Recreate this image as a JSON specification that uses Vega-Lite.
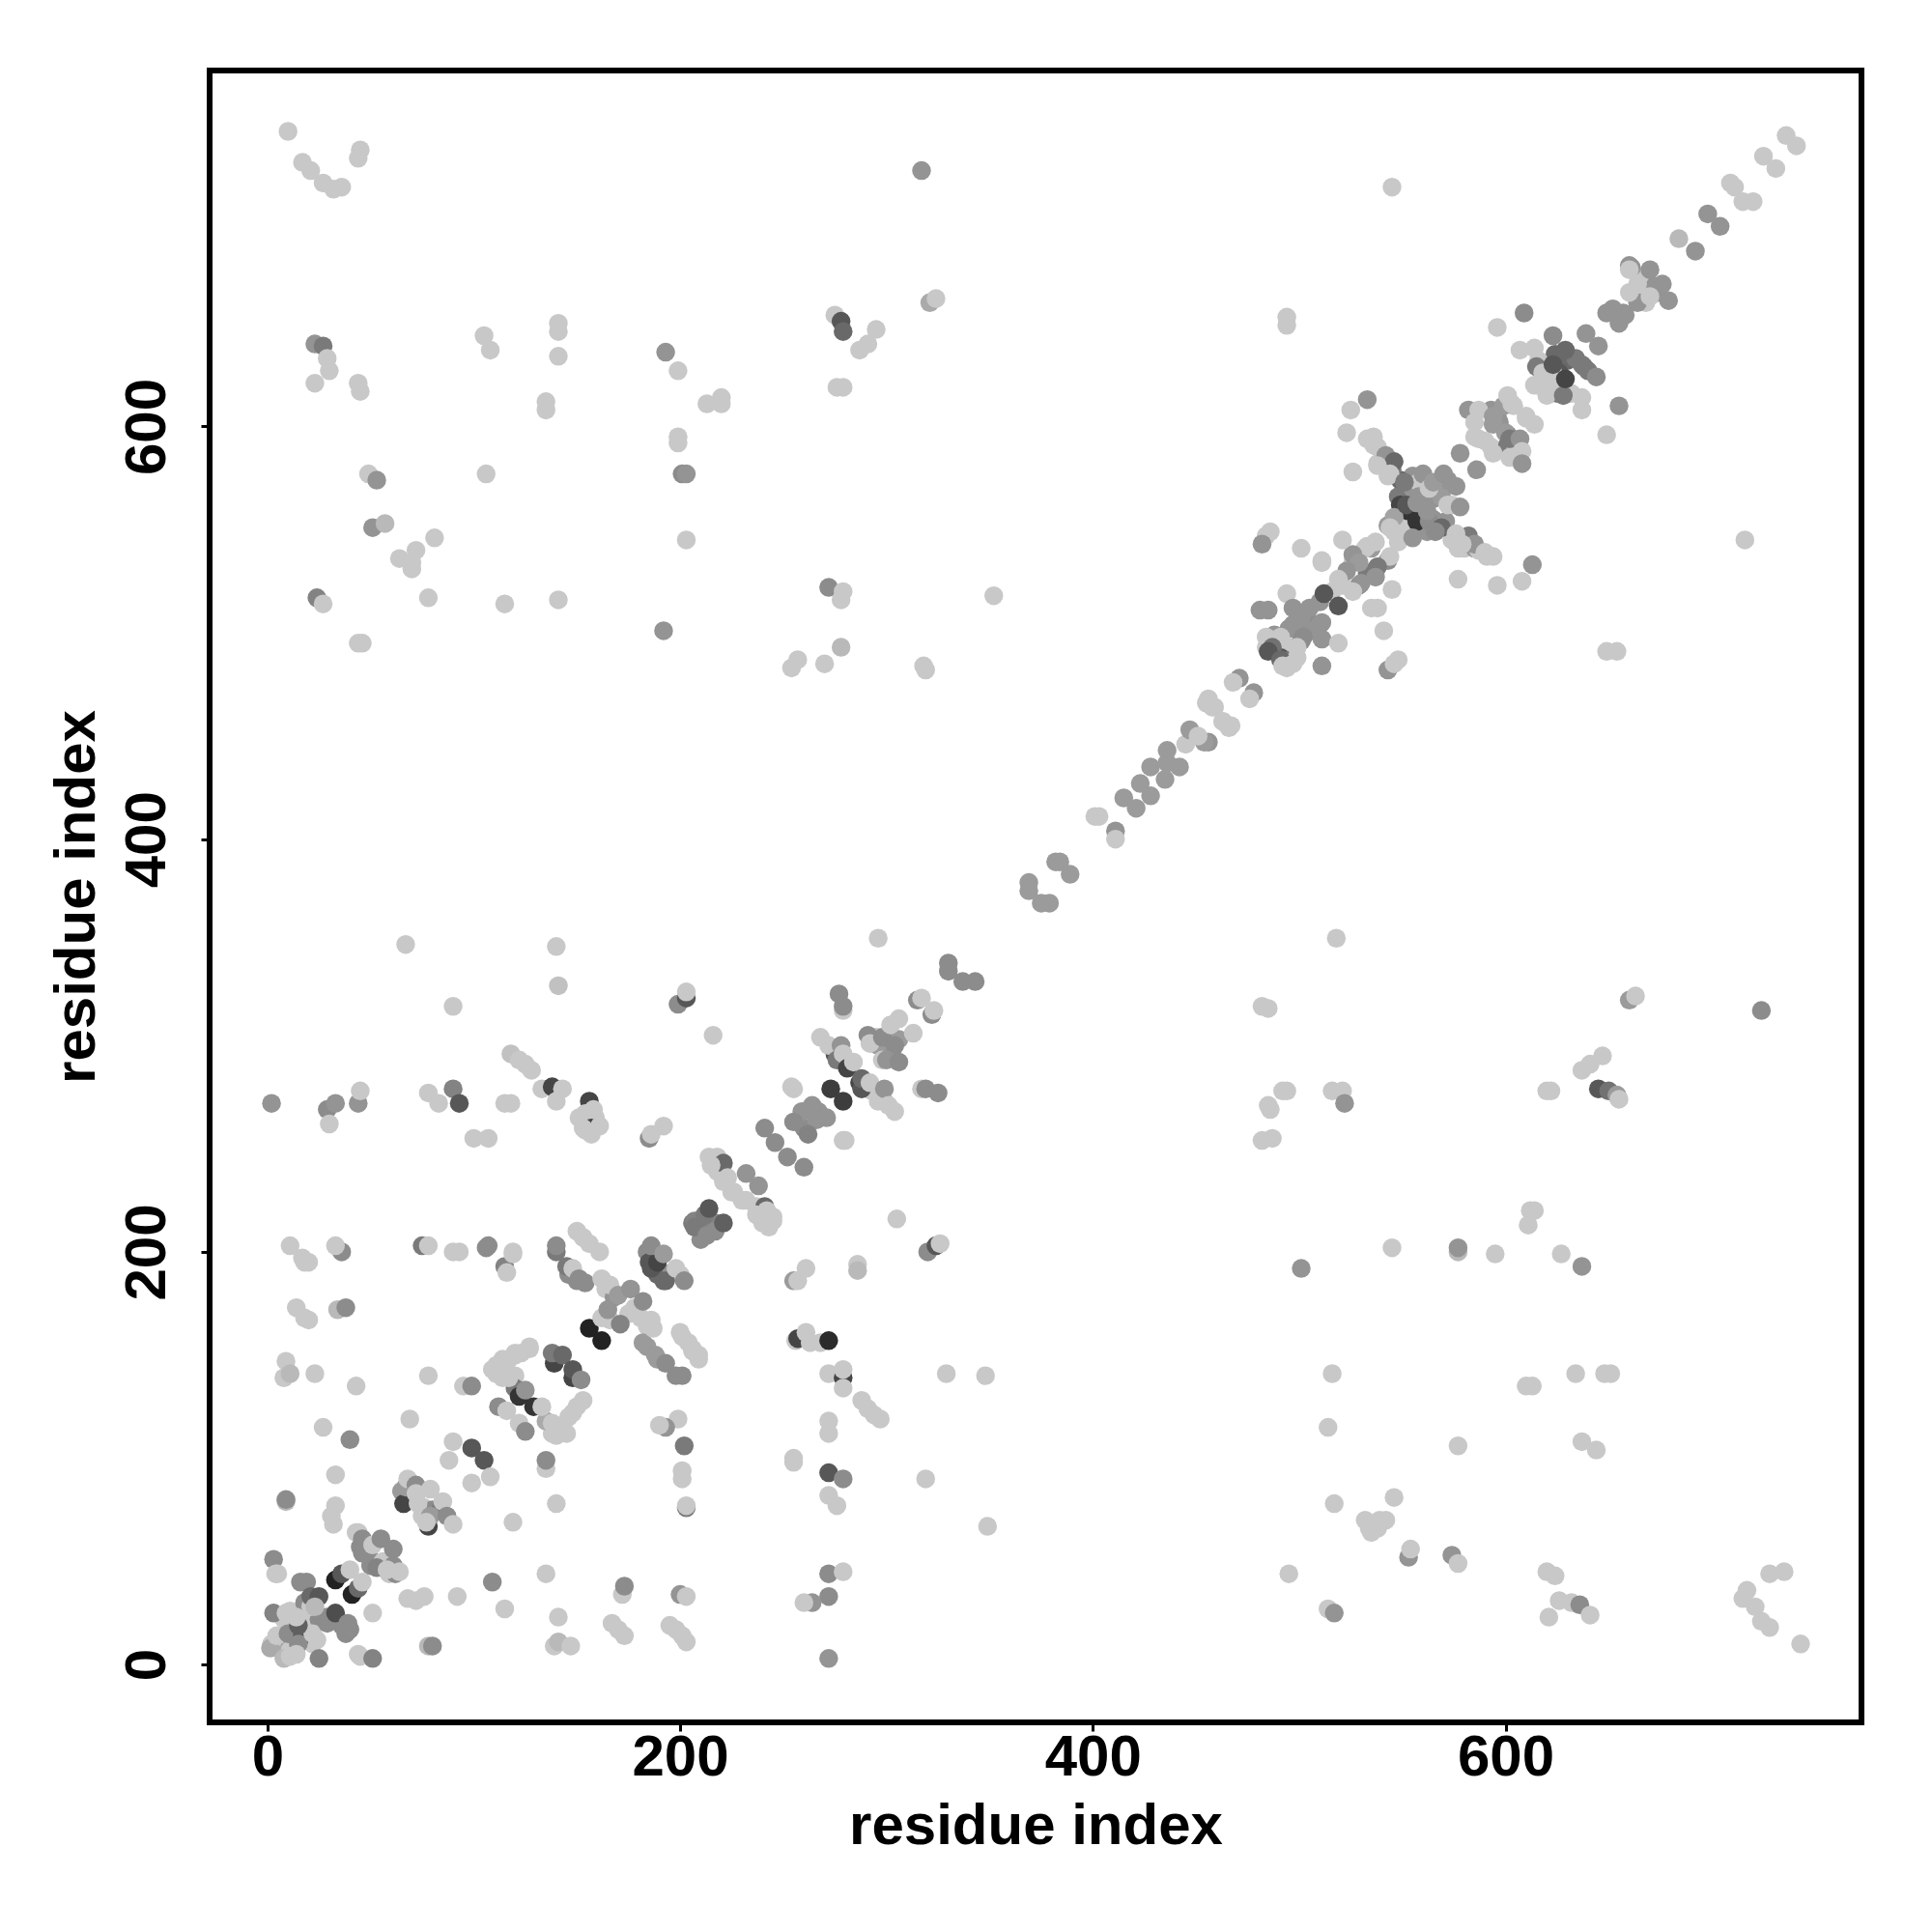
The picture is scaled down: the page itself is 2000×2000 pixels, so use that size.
{"$schema":"https://vega.github.io/schema/vega-lite/v6.json","width":1710,"height":1710,"autosize":{"type":"none"},"padding":{"left":217,"top":73,"right":73,"bottom":217},"background":"white","config":{"view":{"stroke":"black","strokeWidth":6},"font":"Liberation Sans"},
"data":{"values":[
{"x":8,"y":22,"v":0},{"x":11,"y":26,"v":0},{"x":4.5,"y":10,"v":0.3},{"x":2,"y":10,"v":0},{"x":8,"y":5,"v":0.2},{"x":11,"y":7,"v":0},{"x":18,"y":15,"v":0},{"x":22,"y":10,"v":0},{"x":20,"y":22,"v":0},{"x":25,"y":22,"v":0.4},{"x":29,"y":23,"v":0.4},{"x":34,"y":22,"v":0.4},{"x":36,"y":19,"v":0.4},{"x":18,"y":30,"v":0.4},{"x":21,"y":28,"v":0},{"x":43,"y":64,"v":0},{"x":45,"y":57,"v":0.4},{"x":48,"y":58,"v":0},{"x":49,"y":53,"v":0.4},{"x":50,"y":48,"v":0.4},{"x":56,"y":50,"v":0},{"x":59,"y":44,"v":0},{"x":62,"y":44,"v":0.4},{"x":65,"y":84,"v":0.3},{"x":73,"y":84,"v":0},{"x":76,"y":76,"v":0},{"x":80,"y":75,"v":0.4},{"x":84,"y":75,"v":0.5},{"x":75,"y":72,"v":0},{"x":120,"y":151,"v":0},{"x":114,"y":146,"v":0},{"x":109,"y":143,"v":0},{"x":114,"y":139,"v":0},{"x":120,"y":140,"v":0},{"x":120,"y":134,"v":0.5},{"x":138,"y":112,"v":0},{"x":143,"y":114,"v":0},{"x":146,"y":120,"v":0},{"x":135,"y":118,"v":0.2},{"x":156,"y":265,"v":0},{"x":151,"y":265,"v":0},{"x":154,"y":259,"v":0},{"x":159,"y":265,"v":0},{"x":187,"y":198,"v":0.7},{"x":184,"y":200,"v":0.4},{"x":185,"y":195,"v":0.7},{"x":189,"y":189,"v":0.6},{"x":192,"y":186,"v":0.6},{"x":196,"y":190,"v":0.35},{"x":200,"y":189,"v":0},{"x":146,"y":189,"v":0.4},{"x":150,"y":186,"v":0.4},{"x":275,"y":296,"v":0.7},{"x":287,"y":282,"v":0.8},{"x":293,"y":278,"v":0},{"x":299,"y":273,"v":0},{"x":296,"y":300,"v":0.3},{"x":295,"y":304,"v":0},{"x":298,"y":293,"v":0},{"x":302,"y":300,"v":0.3},{"x":306,"y":303,"v":0.3},{"x":218,"y":239,"v":0},{"x":221,"y":234,"v":0},{"x":226,"y":229,"v":0},{"x":232,"y":225,"v":0},{"x":237,"y":222,"v":0},{"x":245,"y":217,"v":0},{"x":243,"y":212,"v":0},{"x":240,"y":214,"v":0},{"x":210,"y":214,"v":0.5},{"x":217,"y":214,"v":0.45},{"x":210,"y":206,"v":0.4},{"x":206,"y":214,"v":0.5},{"x":260,"y":260,"v":0.4},{"x":267,"y":268,"v":0.35},{"x":164,"y":182,"v":0},{"x":168,"y":178,"v":0.35},{"x":166,"y":167,"v":0},{"x":175,"y":170,"v":0},{"x":181,"y":168,"v":0},{"x":184,"y":164,"v":0},{"x":182,"y":156,"v":0.3},{"x":189,"y":148,"v":0.3},{"x":201,"y":159,"v":0},{"x":206,"y":153,"v":0},{"x":209,"y":148,"v":0},{"x":114,"y":148,"v":0},
{"x":555,"y":576,"v":0.35},{"x":549,"y":574,"v":0.6},{"x":548,"y":566,"v":0.5},{"x":549,"y":562,"v":0.8},{"x":555,"y":570,"v":0.35},{"x":558,"y":573,"v":0},{"x":558,"y":566,"v":0.35},{"x":565,"y":565,"v":0.35},{"x":566,"y":570,"v":0},{"x":569,"y":566,"v":0.3},{"x":572,"y":574,"v":0.35},{"x":574,"y":562,"v":0},{"x":565,"y":555,"v":0.35},{"x":558,"y":559,"v":0.4},{"x":562,"y":549,"v":0.35},{"x":557,"y":551,"v":0.35},{"x":571,"y":554,"v":0.35},{"x":551,"y":552,"v":0},{"x":546,"y":549,"v":0},{"x":548,"y":544,"v":0},{"x":543,"y":552,"v":0.3},{"x":536,"y":591,"v":0},{"x":533,"y":594,"v":0},{"x":538,"y":582,"v":0},{"x":543,"y":576,"v":0},{"x":545,"y":579,"v":0.5},{"x":574,"y":545,"v":0},{"x":577,"y":541,"v":0},{"x":580,"y":541,"v":0},{"x":585,"y":541,"v":0.3},{"x":587,"y":540,"v":0},{"x":591,"y":537,"v":0},{"x":535,"y":541,"v":0.3},{"x":532,"y":541,"v":0},{"x":543,"y":535,"v":0.4},{"x":526,"y":534,"v":0},{"x":533,"y":529,"v":0.5},{"x":529,"y":523,"v":0.4},{"x":521,"y":523,"v":0},{"x":516,"y":520,"v":0},{"x":510,"y":515,"v":0.35},{"x":499,"y":502,"v":0.35},{"x":505,"y":505,"v":0.4},{"x":510,"y":504,"v":0.35},{"x":495,"y":502,"v":0.35},{"x":488,"y":499,"v":0.35},{"x":485,"y":495,"v":0.7},{"x":488,"y":492,"v":0.55},{"x":484,"y":493,"v":0},{"x":495,"y":493,"v":0},{"x":498,"y":491,"v":0},{"x":501,"y":496,"v":0.4},{"x":491,"y":488,"v":0.7},{"x":496,"y":487,"v":0.5},{"x":499,"y":488,"v":0},{"x":494,"y":483,"v":0},{"x":593,"y":608,"v":0.35},{"x":596,"y":605,"v":0.35},{"x":597,"y":602,"v":0.35},{"x":585,"y":595,"v":0},{"x":590,"y":593,"v":0},{"x":593,"y":590,"v":0},{"x":601,"y":596,"v":0.5},{"x":604,"y":593,"v":0.6},{"x":601,"y":591,"v":0.5},{"x":605,"y":590,"v":0},{"x":610,"y":605,"v":0},{"x":604,"y":610,"v":0},{"x":599,"y":610,"v":0.3},{"x":621,"y":629,"v":0.6},{"x":624,"y":635,"v":0.6},{"x":630,"y":632,"v":0.6},{"x":626,"y":626,"v":0.7},{"x":627,"y":622,"v":0.8},{"x":623,"y":626,"v":0},{"x":618,"y":623,"v":0},{"x":616,"y":632,"v":0},{"x":634,"y":633,"v":0.5},{"x":638,"y":629,"v":0.5},{"x":621,"y":620,"v":0},{"x":616,"y":620,"v":0},{"x":625,"y":616,"v":0.5},{"x":632,"y":616,"v":0},{"x":657,"y":655,"v":0.35},{"x":662,"y":665,"v":0},{"x":667,"y":670,"v":0},{"x":672,"y":668,"v":0.35},{"x":665,"y":673,"v":0},{"x":660,"y":678,"v":0.35},{"x":674,"y":665,"v":0.35},{"x":668,"y":660,"v":0},
{"x":3,"y":51,"v":0.4},{"x":4,"y":44,"v":0},{"x":5,"y":44,"v":0},{"x":3,"y":25,"v":0.45},{"x":1.5,"y":8,"v":0.2},{"x":4.5,"y":14,"v":0},{"x":8,"y":3,"v":0.1},{"x":10,"y":15,"v":0.4},{"x":17,"y":14,"v":0.7},{"x":15,"y":10,"v":0.4},{"x":14,"y":5,"v":0},{"x":11,"y":4,"v":0},{"x":25,"y":3,"v":0.45},{"x":24,"y":12,"v":0},{"x":22,"y":15,"v":0},{"x":15,"y":19,"v":0.65},{"x":9,"y":25,"v":0},{"x":14,"y":23,"v":0},{"x":16,"y":40,"v":0.4},{"x":19,"y":40,"v":0.4},{"x":21,"y":33,"v":0.6},{"x":25,"y":33,"v":0.7},{"x":23,"y":28,"v":0.1},{"x":29,"y":20,"v":0.4},{"x":33,"y":25,"v":0.75},{"x":38,"y":15,"v":0.4},{"x":39,"y":20,"v":0.4},{"x":40,"y":17,"v":0.4},{"x":44,"y":5,"v":0},{"x":45,"y":4,"v":0},{"x":51,"y":3,"v":0.45},{"x":51,"y":25,"v":0},{"x":33,"y":41,"v":1},{"x":36,"y":44,"v":0.7},{"x":40,"y":46,"v":0},{"x":41,"y":34,"v":1},{"x":44,"y":37,"v":0.6},{"x":46,"y":40,"v":0},{"x":44,"y":64,"v":0},{"x":46,"y":61,"v":0.4},{"x":46,"y":54,"v":0.4},{"x":51,"y":58,"v":0},{"x":55,"y":61,"v":0.4},{"x":53,"y":47,"v":0.45},{"x":61,"y":56,"v":0.4},{"x":61,"y":48,"v":0.4},{"x":58,"y":46,"v":0},{"x":64,"y":45,"v":0},{"x":68,"y":32,"v":0},{"x":72,"y":31,"v":0},{"x":76,"y":33,"v":0},{"x":92,"y":33,"v":0},{"x":109,"y":40,"v":0.4},{"x":115,"y":27,"v":0},{"x":135,"y":44,"v":0},{"x":141,"y":23,"v":0},{"x":172,"y":34,"v":0},{"x":173,"y":38,"v":0.4},{"x":139,"y":9,"v":0},{"x":141,"y":11,"v":0.1},{"x":147,"y":9,"v":0},{"x":78,"y":9,"v":0.1},{"x":80,"y":9,"v":0.4},{"x":167,"y":20,"v":0},{"x":170,"y":17,"v":0},{"x":173,"y":14,"v":0},{"x":9,"y":79,"v":0.1},{"x":9,"y":80,"v":0.4},{"x":33,"y":77,"v":0},{"x":31,"y":72,"v":0},{"x":32,"y":68,"v":0},{"x":33,"y":92,"v":0},{"x":119,"y":69,"v":0},{"x":140,"y":78,"v":0},{"x":135,"y":95,"v":0},{"x":135,"y":99,"v":0.4},
{"x":66,"y":78,"v":0.8},{"x":78,"y":67,"v":0.8},{"x":67,"y":86,"v":0.3},{"x":68,"y":90,"v":0},{"x":72,"y":87,"v":0.4},{"x":73,"y":78,"v":0},{"x":72,"y":83,"v":0},{"x":79,"y":85,"v":0},{"x":79,"y":72,"v":0.3},{"x":77,"y":69,"v":0},{"x":85,"y":79,"v":0},{"x":87,"y":72,"v":0.4},{"x":90,"y":68,"v":0},{"x":90,"y":108,"v":0},{"x":88,"y":99,"v":0},{"x":99,"y":105,"v":0.7},{"x":105,"y":99,"v":0.7},{"x":99,"y":88,"v":0},{"x":108,"y":91,"v":0},{"x":27,"y":115,"v":0},{"x":40,"y":109,"v":0.4},{"x":69,"y":119,"v":0},{"x":9,"y":147,"v":0},{"x":8,"y":139,"v":0},{"x":11,"y":141,"v":0.1},{"x":23,"y":141,"v":0},{"x":43,"y":135,"v":0},{"x":78,"y":140,"v":0},{"x":95,"y":135,"v":0},{"x":99,"y":135,"v":0.4},{"x":112,"y":125,"v":0.4},{"x":116,"y":123,"v":0},{"x":122,"y":130,"v":0.9},{"x":122,"y":117,"v":0},{"x":125,"y":113,"v":0.4},{"x":125,"y":133,"v":0.35},{"x":117,"y":139,"v":0},{"x":111,"y":141,"v":0},{"x":112,"y":145,"v":0},{"x":117,"y":148,"v":0},{"x":123,"y":151,"v":0},{"x":127,"y":153,"v":0},{"x":129,"y":125,"v":0.9},{"x":133,"y":125,"v":0},{"x":138,"y":117,"v":0},{"x":140,"y":111,"v":0},{"x":145,"y":112,"v":0},{"x":148,"y":122,"v":0},{"x":150,"y":125,"v":0},{"x":153,"y":128,"v":0},{"x":139,"y":146,"v":0.8},{"x":138,"y":151,"v":0.5},{"x":143,"y":150,"v":0.6},{"x":148,"y":139,"v":0.8},{"x":148,"y":143,"v":0.7},{"x":152,"y":138,"v":0.4},
{"x":18,"y":195,"v":0},{"x":14,"y":173,"v":0},{"x":18,"y":168,"v":0},{"x":20,"y":167,"v":0},{"x":34,"y":172,"v":0.1},{"x":38,"y":173,"v":0.4},{"x":36,"y":200,"v":0.4},{"x":33,"y":203,"v":0},{"x":11,"y":203,"v":0},{"x":17,"y":197,"v":0},{"x":20,"y":195,"v":0},{"x":75,"y":203,"v":0.5},{"x":78,"y":203,"v":0},{"x":90,"y":200,"v":0},{"x":93,"y":200,"v":0},{"x":106,"y":202,"v":0.4},{"x":115,"y":193,"v":0.45},{"x":116,"y":190,"v":0},{"x":119,"y":199,"v":0},
{"x":140,"y":348,"v":0},{"x":141,"y":329,"v":0.05},{"x":199,"y":320,"v":0.4},{"x":203,"y":323,"v":0.7},{"x":203,"y":326,"v":0},{"x":216,"y":305,"v":0},{"x":296,"y":352,"v":0},{"x":277,"y":325,"v":0.4},{"x":279,"y":317,"v":0},{"x":279,"y":319,"v":0.4},
{"x":268,"y":304,"v":0},{"x":272,"y":300,"v":0},{"x":278,"y":300,"v":0.35},{"x":276,"y":293,"v":0.5},{"x":279,"y":296,"v":0},{"x":281,"y":289,"v":0.8},{"x":284,"y":292,"v":0},{"x":288,"y":279,"v":0.7},{"x":288,"y":284,"v":0.6},{"x":292,"y":282,"v":0},{"x":296,"y":273,"v":0},{"x":299,"y":279,"v":0.35},{"x":301,"y":271,"v":0},{"x":304,"y":268,"v":0},{"x":291,"y":305,"v":0.4},{"x":292,"y":301,"v":0},{"x":298,"y":304,"v":0.4},{"x":304,"y":300,"v":0.4},{"x":300,"y":293,"v":0.35},{"x":306,"y":292,"v":0.4},{"x":302,"y":310,"v":0},{"x":306,"y":313,"v":0},{"x":313,"y":306,"v":0},{"x":315,"y":322,"v":0.4},{"x":317,"y":323,"v":0},{"x":322,"y":315,"v":0.4},{"x":323,"y":317,"v":0},{"x":330,"y":336,"v":0.4},{"x":330,"y":340,"v":0.4},{"x":337,"y":331,"v":0.4},{"x":343,"y":331,"v":0.4},{"x":317,"y":279,"v":0},{"x":319,"y":279,"v":0.4},{"x":325,"y":277,"v":0.4},{"x":254,"y":280,"v":0},{"x":255,"y":279,"v":0},{"x":273,"y":279,"v":0.85},{"x":279,"y":273,"v":0.85},{"x":264,"y":271,"v":0.35},{"x":259,"y":268,"v":0.35},{"x":271,"y":265,"v":0.35},{"x":266,"y":264,"v":0.35},{"x":255,"y":263,"v":0.4},{"x":262,"y":257,"v":0.45},{"x":279,"y":254,"v":0},{"x":280,"y":254,"v":0},{"x":241,"y":260,"v":0.4},{"x":246,"y":253,"v":0.4},{"x":252,"y":246,"v":0.4},{"x":260,"y":241,"v":0.4},
{"x":214,"y":246,"v":0},{"x":218,"y":246,"v":0},{"x":221,"y":243,"v":0.6},{"x":215,"y":242,"v":0},{"x":223,"y":236,"v":0},{"x":232,"y":238,"v":0.35},{"x":238,"y":232,"v":0.35},{"x":225,"y":229,"v":0},{"x":230,"y":225,"v":0},{"x":241,"y":222,"v":0.6},{"x":242,"y":220,"v":0},{"x":245,"y":215,"v":0},{"x":237,"y":218,"v":0},{"x":207,"y":215,"v":0.45},{"x":207,"y":212,"v":0.5},{"x":212,"y":218,"v":0.5},{"x":213,"y":208,"v":0.4},{"x":214,"y":221,"v":0.7},{"x":217,"y":210,"v":0.4},{"x":221,"y":214,"v":0.65},
{"x":305,"y":216,"v":0},{"x":320,"y":200,"v":0.4},{"x":324,"y":203,"v":0.7},{"x":326,"y":204,"v":0},{"x":255,"y":186,"v":0.3},{"x":257,"y":186,"v":0},{"x":261,"y":192,"v":0},{"x":286,"y":194,"v":0},{"x":286,"y":191,"v":0.1},{"x":256,"y":157,"v":0},{"x":257,"y":158,"v":0.8},{"x":261,"y":161,"v":0},{"x":263,"y":156,"v":0},{"x":268,"y":156,"v":0},{"x":272,"y":157,"v":0.95},{"x":272,"y":141,"v":0},{"x":279,"y":139,"v":0.8},{"x":279,"y":143,"v":0},{"x":279,"y":134,"v":0},{"x":329,"y":141,"v":0},{"x":348,"y":140,"v":0},
{"x":118,"y":296,"v":0.05},{"x":122,"y":293,"v":0},{"x":125,"y":291,"v":0},{"x":128,"y":288,"v":0},{"x":133,"y":279,"v":0},{"x":138,"y":280,"v":0.8},{"x":143,"y":279,"v":0},{"x":140,"y":273,"v":0},{"x":156,"y":273,"v":0.8},{"x":158,"y":269,"v":0},{"x":154,"y":267,"v":0},{"x":157,"y":260,"v":0.8},{"x":161,"y":261,"v":0},{"x":153,"y":260,"v":0},{"x":157,"y":257,"v":0},{"x":115,"y":272,"v":0},{"x":118,"y":272,"v":0},{"x":107,"y":255,"v":0},{"x":100,"y":255,"v":0},{"x":185,"y":255,"v":0.4},{"x":186,"y":257,"v":0},{"x":192,"y":261,"v":0},{"x":2,"y":272,"v":0.35},{"x":29,"y":269,"v":0.4},{"x":30,"y":262,"v":0},{"x":33,"y":272,"v":0.35},{"x":44,"y":272,"v":0.35},{"x":45,"y":278,"v":0},{"x":90,"y":279,"v":0.45},{"x":93,"y":272,"v":0.7},{"x":78,"y":277,"v":0},{"x":83,"y":272,"v":0},{"x":67,"y":349,"v":0},{"x":90,"y":319,"v":0},{"x":107,"y":203,"v":0.4},{"x":119,"y":200,"v":0},
{"x":140,"y":200,"v":0.5},{"x":140,"y":203,"v":0.4},{"x":145,"y":193,"v":0.5},{"x":148,"y":192,"v":0},{"x":151,"y":187,"v":0.4},{"x":154,"y":185,"v":0.4},{"x":150,"y":210,"v":0},{"x":153,"y":207,"v":0},{"x":156,"y":204,"v":0},{"x":161,"y":200,"v":0},{"x":186,"y":192,"v":0.7},{"x":189,"y":195,"v":0.8},{"x":186,"y":203,"v":0.4},{"x":192,"y":199,"v":0.3},{"x":193,"y":186,"v":0.6},{"x":198,"y":192,"v":0},{"x":202,"y":186,"v":0.4},{"x":156,"y":163,"v":1},{"x":162,"y":157,"v":1},{"x":162,"y":168,"v":0},{"x":165,"y":172,"v":0.35},{"x":162,"y":187,"v":0},{"x":166,"y":184,"v":0},{"x":170,"y":179,"v":0.3},{"x":176,"y":182,"v":0.35},{"x":171,"y":165,"v":0.45},{"x":178,"y":173,"v":0},{"x":182,"y":176,"v":0.4},{"x":186,"y":167,"v":0},{"x":187,"y":163,"v":0},{"x":184,"y":154,"v":0.3},{"x":188,"y":150,"v":0.3},{"x":193,"y":146,"v":0.4},{"x":198,"y":140,"v":0.4},{"x":201,"y":140,"v":0.4},{"x":200,"y":161,"v":0},{"x":204,"y":156,"v":0},{"x":209,"y":150,"v":0},{"x":206,"y":152,"v":0},{"x":127,"y":154,"v":0},{"x":120,"y":150,"v":0},{"x":111,"y":145,"v":0},
{"x":199,"y":119,"v":0},{"x":193,"y":115,"v":0.35},{"x":190,"y":116,"v":0},{"x":202,"y":106,"v":0.5},{"x":201,"y":94,"v":0},{"x":201,"y":90,"v":0},{"x":203,"y":76,"v":0.5},{"x":203,"y":77,"v":0},{"x":200,"y":34,"v":0.35},{"x":203,"y":33,"v":0},{"x":195,"y":19,"v":0},{"x":198,"y":17,"v":0},{"x":201,"y":14,"v":0},{"x":203,"y":11,"v":0},{"x":255,"y":100,"v":0},{"x":255,"y":98,"v":0},{"x":272,"y":118,"v":0},{"x":272,"y":112,"v":0},{"x":272,"y":93,"v":0.7},{"x":279,"y":90,"v":0.4},{"x":272,"y":82,"v":0},{"x":276,"y":77,"v":0},{"x":288,"y":128,"v":0},{"x":291,"y":124,"v":0},{"x":294,"y":121,"v":0},{"x":297,"y":119,"v":0},{"x":272,"y":44,"v":0.4},{"x":279,"y":45,"v":0},{"x":272,"y":33,"v":0.4},{"x":264,"y":30,"v":0.35},{"x":260,"y":30,"v":0},{"x":272,"y":3,"v":0.35},{"x":319,"y":90,"v":0},{"x":349,"y":67,"v":0},
{"x":533,"y":613,"v":0.35},{"x":525,"y":608,"v":0},{"x":523,"y":597,"v":0},{"x":536,"y":595,"v":0},{"x":538,"y":590,"v":0},{"x":542,"y":586,"v":0.35},{"x":546,"y":583,"v":0.6},{"x":526,"y":578,"v":0},{"x":538,"y":581,"v":0},{"x":544,"y":577,"v":0},{"x":551,"y":573,"v":0.5},{"x":553,"y":559,"v":0.9},{"x":557,"y":554,"v":0.9},{"x":546,"y":556,"v":0.25},{"x":544,"y":551,"v":0},{"x":549,"y":548,"v":0},{"x":555,"y":546,"v":0.35},{"x":552,"y":562,"v":0.7},{"x":557,"y":563,"v":0.35},{"x":560,"y":577,"v":0.35},{"x":563,"y":570,"v":0},{"x":563,"y":554,"v":0.4},{"x":562,"y":559,"v":0.35},{"x":569,"y":551,"v":0.6},{"x":566,"y":549,"v":0.4},{"x":572,"y":562,"v":0},{"x":565,"y":573,"v":0.3},{"x":570,"y":577,"v":0.35},{"x":576,"y":571,"v":0.35},{"x":578,"y":561,"v":0.35},{"x":582,"y":547,"v":0.5},{"x":576,"y":548,"v":0},{"x":585,"y":543,"v":0.35},{"x":579,"y":543,"v":0},{"x":590,"y":539,"v":0},{"x":594,"y":537,"v":0},{"x":578,"y":587,"v":0.35},{"x":586,"y":579,"v":0.35},{"x":613,"y":533,"v":0.35},{"x":608,"y":525,"v":0},{"x":596,"y":523,"v":0},{"x":577,"y":526,"v":0},{"x":716,"y":545,"v":0},
{"x":537,"y":544,"v":0},{"x":533,"y":542,"v":0},{"x":544,"y":537,"v":0},{"x":526,"y":538,"v":0.35},{"x":529,"y":534,"v":0.3},{"x":538,"y":532,"v":0.5},{"x":523,"y":530,"v":0.35},{"x":519,"y":526,"v":0},{"x":537,"y":527,"v":0.35},{"x":530,"y":524,"v":0.35},{"x":526,"y":520,"v":0},{"x":512,"y":519,"v":0.7},{"x":519,"y":513,"v":0.7},{"x":545,"y":521,"v":0},{"x":521,"y":545,"v":0},{"x":511,"y":535,"v":0},{"x":511,"y":534,"v":0},{"x":501,"y":541,"v":0},{"x":494,"y":519,"v":0},{"x":535,"y":512,"v":0},{"x":538,"y":512,"v":0},{"x":541,"y":501,"v":0},{"x":486,"y":549,"v":0},{"x":484,"y":547,"v":0},{"x":482,"y":543,"v":0.35},{"x":481,"y":511,"v":0.35},{"x":485,"y":511,"v":0.35},{"x":497,"y":512,"v":0.35},{"x":505,"y":512,"v":0.35},{"x":511,"y":505,"v":0.35},{"x":501,"y":507,"v":0.35},{"x":497,"y":504,"v":0.35},{"x":507,"y":501,"v":0.35},{"x":491,"y":498,"v":0},{"x":484,"y":498,"v":0},{"x":511,"y":497,"v":0.35},{"x":502,"y":498,"v":0.4},{"x":487,"y":493,"v":0.55},{"x":485,"y":491,"v":0.7},{"x":499,"y":493,"v":0},{"x":491,"y":487,"v":0.6},{"x":497,"y":485,"v":0},{"x":492,"y":484,"v":0},{"x":519,"y":495,"v":0},{"x":511,"y":484,"v":0.35},{"x":543,"y":482,"v":0.35},{"x":546,"y":485,"v":0},{"x":548,"y":487,"v":0},
{"x":471,"y":478,"v":0.35},{"x":468,"y":476,"v":0},{"x":478,"y":471,"v":0.35},{"x":476,"y":468,"v":0},{"x":458,"y":464,"v":0},{"x":456,"y":468,"v":0},{"x":463,"y":457,"v":0},{"x":467,"y":455,"v":0},{"x":456,"y":447,"v":0.35},{"x":649,"y":491,"v":0},{"x":654,"y":491,"v":0},{"x":582,"y":608,"v":0.35},{"x":587,"y":608,"v":0},{"x":585,"y":602,"v":0},{"x":594,"y":605,"v":0.3},{"x":594,"y":601,"v":0.3},{"x":601,"y":615,"v":0},{"x":603,"y":611,"v":0},{"x":610,"y":604,"v":0},{"x":614,"y":601,"v":0},{"x":587,"y":594,"v":0},{"x":594,"y":587,"v":0},{"x":600,"y":597,"v":0.3},{"x":602,"y":594,"v":0.5},{"x":607,"y":594,"v":0.35},{"x":608,"y":588,"v":0},{"x":602,"y":585,"v":0},{"x":608,"y":582,"v":0.35},{"x":655,"y":610,"v":0.35},{"x":649,"y":596,"v":0},{"x":607,"y":637,"v":0},{"x":614,"y":638,"v":0},{"x":615,"y":629,"v":0.5},{"x":618,"y":626,"v":0},{"x":614,"y":620,"v":0},{"x":620,"y":615,"v":0},{"x":623,"y":630,"v":0.7},{"x":624,"y":619,"v":0},{"x":628,"y":615,"v":0.5},{"x":629,"y":623,"v":0.8},{"x":629,"y":637,"v":0.6},{"x":637,"y":630,"v":0.5},{"x":640,"y":627,"v":0.5},{"x":645,"y":639,"v":0.35},{"x":644,"y":624,"v":0.4},{"x":637,"y":608,"v":0},{"x":637,"y":614,"v":0},
{"x":609,"y":655,"v":0.4},{"x":596,"y":648,"v":0},{"x":623,"y":644,"v":0.4},{"x":639,"y":645,"v":0.35},{"x":649,"y":655,"v":0.35},{"x":652,"y":657,"v":0.35},{"x":658,"y":654,"v":0.35},{"x":664,"y":660,"v":0.35},{"x":655,"y":650,"v":0.35},{"x":661,"y":677,"v":0.35},{"x":670,"y":676,"v":0.35},{"x":660,"y":676,"v":0},{"x":664,"y":669,"v":0},{"x":676,"y":669,"v":0.35},{"x":679,"y":661,"v":0.35},{"x":670,"y":663,"v":0},{"x":660,"y":665,"v":0},{"x":684,"y":691,"v":0.1},{"x":692,"y":685,"v":0.35},{"x":698,"y":703,"v":0.35},{"x":704,"y":697,"v":0.35},{"x":709,"y":718,"v":0},{"x":711,"y":716,"v":0},{"x":715,"y":709,"v":0},{"x":720,"y":709,"v":0},{"x":725,"y":731,"v":0},{"x":731,"y":725,"v":0},{"x":736,"y":741,"v":0},{"x":741,"y":736,"v":0},{"x":545,"y":716,"v":0},{"x":317,"y":724,"v":0.35},
{"x":10,"y":743,"v":0},{"x":17,"y":728,"v":0},{"x":21,"y":724,"v":0},{"x":27,"y":718,"v":0},{"x":32,"y":715,"v":0},{"x":36,"y":716,"v":0},{"x":45,"y":734,"v":0},{"x":44,"y":730,"v":0},{"x":321,"y":660,"v":0.2},{"x":324,"y":662,"v":0},{"x":494,"y":653,"v":0},{"x":494,"y":649,"v":0},{"x":275,"y":654,"v":0},{"x":278,"y":651,"v":0.7},{"x":279,"y":646,"v":0.6},{"x":295,"y":647,"v":0},{"x":291,"y":640,"v":0},{"x":287,"y":637,"v":0},{"x":276,"y":619,"v":0},{"x":279,"y":619,"v":0},{"x":23,"y":640,"v":0.35},{"x":27,"y":639,"v":0.5},{"x":29,"y":633,"v":0},{"x":30,"y":627,"v":0},{"x":23,"y":621,"v":0},{"x":44,"y":621,"v":0},{"x":45,"y":617,"v":0},{"x":105,"y":644,"v":0},{"x":108,"y":637,"v":0},{"x":141,"y":650,"v":0},{"x":141,"y":646,"v":0},{"x":141,"y":634,"v":0},{"x":135,"y":612,"v":0},{"x":135,"y":608,"v":0},{"x":193,"y":636,"v":0.35},{"x":199,"y":627,"v":0},{"x":220,"y":614,"v":0},{"x":213,"y":611,"v":0},{"x":220,"y":611,"v":0},{"x":199,"y":595,"v":0},{"x":199,"y":592,"v":0},{"x":106,"y":577,"v":0},{"x":49,"y":577,"v":0},{"x":53,"y":574,"v":0.35},{"x":201,"y":577,"v":0.4},{"x":203,"y":577,"v":0.35},{"x":203,"y":545,"v":0},{"x":81,"y":546,"v":0},{"x":51,"y":551,"v":0.35},{"x":57,"y":553,"v":0.1},{"x":64,"y":536,"v":0},{"x":70,"y":534,"v":0},{"x":70,"y":531,"v":0},{"x":72,"y":540,"v":0},{"x":24,"y":517,"v":0.45},{"x":27,"y":514,"v":0},{"x":78,"y":517,"v":0},{"x":115,"y":514,"v":0},{"x":141,"y":516,"v":0},{"x":44,"y":495,"v":0},{"x":46,"y":495,"v":0},{"x":192,"y":501,"v":0.35},{"x":272,"y":522,"v":0.4},{"x":279,"y":520,"v":0},{"x":278,"y":516,"v":0},{"x":352,"y":518,"v":0},{"x":254,"y":483,"v":0},{"x":257,"y":487,"v":0},{"x":270,"y":485,"v":0},{"x":278,"y":493,"v":0.1},{"x":318,"y":484,"v":0},{"x":319,"y":482,"v":0},
{"x":369,"y":379,"v":0.3},{"x":369,"y":375,"v":0.3},{"x":375,"y":369,"v":0.3},{"x":379,"y":369,"v":0.3},{"x":382,"y":389,"v":0.3},{"x":384,"y":389,"v":0.3},{"x":389,"y":383,"v":0.3},{"x":401,"y":411,"v":0},{"x":403,"y":411,"v":0},{"x":411,"y":404,"v":0.35},{"x":411,"y":400,"v":0},{"x":415,"y":420,"v":0.3},{"x":421,"y":415,"v":0.3},{"x":423,"y":427,"v":0.3},{"x":428,"y":421,"v":0.3},{"x":428,"y":435,"v":0.3},{"x":435,"y":429,"v":0.3},{"x":436,"y":443,"v":0.3},{"x":436,"y":437,"v":0.3},{"x":442,"y":435,"v":0.3},{"x":445,"y":446,"v":0},{"x":447,"y":453,"v":0.3},{"x":454,"y":447,"v":0.3},{"x":451,"y":450,"v":0},{"x":455,"y":466,"v":0},{"x":459,"y":464,"v":0},{"x":463,"y":457,"v":0},{"x":466,"y":454,"v":0},
{"x":482,"y":319,"v":0},{"x":485,"y":318,"v":0},{"x":492,"y":278,"v":0},{"x":494,"y":278,"v":0},{"x":485,"y":271,"v":0},{"x":486,"y":269,"v":0},{"x":482,"y":254,"v":0},{"x":487,"y":255,"v":0},{"x":518,"y":352,"v":0},{"x":516,"y":278,"v":0},{"x":521,"y":278,"v":0},{"x":522,"y":272,"v":0.35},{"x":620,"y":278,"v":0},{"x":622,"y":278,"v":0},{"x":637,"y":288,"v":0},{"x":641,"y":291,"v":0},{"x":647,"y":295,"v":0},{"x":645,"y":279,"v":0.7},{"x":650,"y":278,"v":0.55},{"x":654,"y":276,"v":0.3},{"x":655,"y":274,"v":0},{"x":660,"y":322,"v":0.3},{"x":663,"y":324,"v":0},{"x":724,"y":317,"v":0.4},{"x":501,"y":192,"v":0.35},{"x":545,"y":202,"v":0},{"x":577,"y":200,"v":0.1},{"x":577,"y":202,"v":0.35},{"x":595,"y":199,"v":0},{"x":612,"y":220,"v":0},{"x":614,"y":220,"v":0},{"x":611,"y":213,"v":0},{"x":627,"y":199,"v":0},{"x":637,"y":193,"v":0.35},{"x":516,"y":141,"v":0},{"x":610,"y":135,"v":0},{"x":613,"y":135,"v":0},{"x":634,"y":141,"v":0},{"x":648,"y":141,"v":0},{"x":651,"y":141,"v":0},{"x":514,"y":115,"v":0},{"x":577,"y":106,"v":0},{"x":637,"y":108,"v":0},{"x":644,"y":104,"v":0},{"x":517,"y":78,"v":0},{"x":546,"y":81,"v":0},{"x":532,"y":70,"v":0},{"x":539,"y":70,"v":0},{"x":534,"y":66,"v":0},{"x":538,"y":66,"v":0},{"x":542,"y":70,"v":0},{"x":535,"y":64,"v":0},{"x":553,"y":52,"v":0.35},{"x":554,"y":56,"v":0},{"x":574,"y":53,"v":0.35},{"x":577,"y":49,"v":0},{"x":495,"y":44,"v":0},{"x":620,"y":45,"v":0},{"x":624,"y":43,"v":0},{"x":626,"y":31,"v":0},{"x":632,"y":30,"v":0},{"x":636,"y":29,"v":0.4},{"x":641,"y":24,"v":0},{"x":621,"y":23,"v":0},{"x":514,"y":27,"v":0},{"x":517,"y":25,"v":0.35},{"x":715,"y":32,"v":0},{"x":717,"y":36,"v":0},{"x":721,"y":28,"v":0},{"x":724,"y":21,"v":0},{"x":728,"y":18,"v":0},{"x":728,"y":44,"v":0},{"x":735,"y":45,"v":0},{"x":743,"y":10,"v":0}
]},
"mark":{"type":"circle","size":380,"opacity":1,"clip":true},
"encoding":{
"x":{"field":"x","type":"quantitative","scale":{"domain":[-28,772.5],"nice":false,"zero":false},"axis":{"values":[0,200,400,600],"grid":false,"domain":false,"tickColor":"black","tickWidth":3,"tickSize":9,"labelFontSize":60,"labelFont":"Liberation Sans","labelFontWeight":"bold","labelColor":"black","labelPadding":-2,"title":"residue index","titleFont":"Liberation Sans","titleFontSize":60,"titleFontWeight":"bold","titleColor":"black","titlePadding":12}},
"y":{"field":"y","type":"quantitative","scale":{"domain":[-28,772.5],"nice":false,"zero":false},"axis":{"values":[0,200,400,600],"grid":false,"domain":false,"tickColor":"black","tickWidth":3,"tickSize":9,"labelFontSize":60,"labelFont":"Liberation Sans","labelFontWeight":"bold","labelColor":"black","labelAngle":-90,"labelAlign":"center","labelBaseline":"bottom","labelPadding":25,"title":"residue index","titleFont":"Liberation Sans","titleFontSize":60,"titleFontWeight":"bold","titleColor":"black","titlePadding":12}},
"color":{"field":"v","type":"quantitative","scale":{"domain":[0,0.4,1],"range":["#c8c8c8","#8c8c8c","#222222"],"interpolate":"rgb"},"legend":null}
}}
